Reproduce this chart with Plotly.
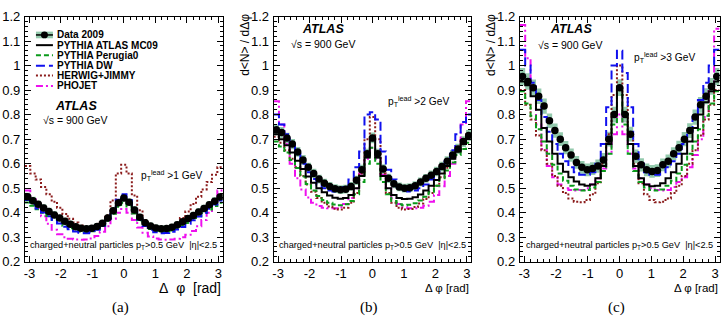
import numpy as np
import plotly.graph_objects as go

W, H = 723, 326
NBINS = 37

# ---------------- data (bins from -pi to pi, 37 bins) ----------------
# Panel (a): pT lead > 1 GeV
a_data = [0.465, 0.449, 0.434, 0.419, 0.405, 0.391, 0.378, 0.365, 0.353, 0.343, 0.337, 0.334, 0.336, 0.344, 0.357, 0.378, 0.408, 0.441,
          0.460,
          0.443, 0.411, 0.381, 0.359, 0.346, 0.338, 0.334, 0.335, 0.341, 0.351, 0.363, 0.376, 0.389, 0.403, 0.417, 0.432, 0.447, 0.464]
a_err = [0.016, 0.016, 0.015, 0.015, 0.015, 0.015, 0.014, 0.014, 0.014, 0.014, 0.014, 0.014, 0.014, 0.014, 0.014, 0.015, 0.015, 0.015,
         0.016,
         0.015, 0.015, 0.015, 0.014, 0.014, 0.014, 0.014, 0.014, 0.014, 0.014, 0.014, 0.014, 0.015, 0.015, 0.015, 0.015, 0.016, 0.016]
a_mc09 = [0.460, 0.445, 0.430, 0.415, 0.400, 0.386, 0.372, 0.359, 0.347, 0.337, 0.331, 0.329, 0.332, 0.340, 0.355, 0.377, 0.406, 0.437,
          0.455,
          0.437, 0.405, 0.376, 0.354, 0.340, 0.332, 0.329, 0.330, 0.336, 0.346, 0.358, 0.371, 0.385, 0.399, 0.414, 0.429, 0.444, 0.458]
a_per = [0.442, 0.428, 0.414, 0.400, 0.386, 0.372, 0.359, 0.347, 0.336, 0.328, 0.323, 0.321, 0.324, 0.332, 0.346, 0.367, 0.396, 0.424,
         0.440,
         0.425, 0.397, 0.368, 0.347, 0.333, 0.325, 0.321, 0.322, 0.327, 0.335, 0.346, 0.358, 0.371, 0.385, 0.399, 0.413, 0.427, 0.440]
a_dw = [0.452, 0.434, 0.417, 0.401, 0.385, 0.370, 0.356, 0.343, 0.332, 0.323, 0.318, 0.316, 0.320, 0.330, 0.347, 0.373, 0.411, 0.453,
        0.475,
        0.452, 0.410, 0.372, 0.346, 0.330, 0.320, 0.316, 0.317, 0.322, 0.331, 0.342, 0.355, 0.369, 0.384, 0.400, 0.416, 0.433, 0.450]
a_her = [0.590, 0.560, 0.535, 0.505, 0.475, 0.445, 0.420, 0.395, 0.375, 0.360, 0.348, 0.340, 0.338, 0.345, 0.360, 0.390, 0.450, 0.560,
         0.595,
         0.560, 0.470, 0.410, 0.370, 0.350, 0.340, 0.336, 0.338, 0.345, 0.358, 0.378, 0.405, 0.435, 0.465, 0.495, 0.525, 0.555, 0.585]
a_pho = [0.490, 0.455, 0.420, 0.385, 0.355, 0.330, 0.312, 0.300, 0.294, 0.291, 0.290, 0.291, 0.295, 0.305, 0.322, 0.345, 0.375, 0.400,
         0.415,
         0.400, 0.370, 0.340, 0.318, 0.303, 0.295, 0.291, 0.290, 0.291, 0.294, 0.300, 0.310, 0.325, 0.345, 0.370, 0.400, 0.440, 0.490]

# Panel (b): pT lead > 2 GeV
b_data = [0.738, 0.727, 0.705, 0.680, 0.648, 0.615, 0.585, 0.560, 0.537, 0.520, 0.507, 0.498, 0.494, 0.496, 0.507, 0.532, 0.575, 0.640,
          0.705,
          0.640, 0.578, 0.540, 0.518, 0.505, 0.500, 0.502, 0.510, 0.525, 0.540, 0.553, 0.568, 0.588, 0.610, 0.635, 0.660, 0.690, 0.715]
b_err = [0.022, 0.022, 0.021, 0.021, 0.020, 0.020, 0.019, 0.019, 0.018, 0.018, 0.018, 0.018, 0.018, 0.018, 0.018, 0.019, 0.020, 0.021,
         0.022,
         0.021, 0.020, 0.019, 0.018, 0.018, 0.018, 0.018, 0.018, 0.018, 0.018, 0.019, 0.019, 0.020, 0.020, 0.021, 0.021, 0.022, 0.022]
b_mc09 = [0.720, 0.700, 0.675, 0.645, 0.612, 0.578, 0.548, 0.522, 0.500, 0.483, 0.470, 0.461, 0.457, 0.460, 0.472, 0.500, 0.550, 0.625,
          0.695,
          0.625, 0.550, 0.500, 0.472, 0.460, 0.456, 0.457, 0.463, 0.474, 0.490, 0.510, 0.533, 0.560, 0.590, 0.620, 0.650, 0.680, 0.710]
b_per = [0.690, 0.670, 0.645, 0.615, 0.582, 0.548, 0.517, 0.490, 0.468, 0.452, 0.440, 0.433, 0.430, 0.434, 0.448, 0.475, 0.525, 0.600,
         0.665,
         0.600, 0.525, 0.475, 0.448, 0.434, 0.430, 0.432, 0.438, 0.450, 0.465, 0.485, 0.510, 0.540, 0.572, 0.605, 0.635, 0.660, 0.685]
b_dw = [0.800, 0.760, 0.720, 0.680, 0.640, 0.600, 0.565, 0.537, 0.515, 0.500, 0.490, 0.486, 0.490, 0.505, 0.535, 0.585, 0.650, 0.800,
        0.810,
        0.780, 0.650, 0.575, 0.535, 0.505, 0.490, 0.486, 0.490, 0.500, 0.515, 0.535, 0.560, 0.585, 0.610, 0.655, 0.720, 0.770, 0.800]
b_her = [0.710, 0.685, 0.655, 0.620, 0.585, 0.550, 0.515, 0.485, 0.460, 0.440, 0.425, 0.416, 0.413, 0.420, 0.440, 0.480, 0.560, 0.700,
         0.790,
         0.700, 0.560, 0.480, 0.440, 0.420, 0.413, 0.415, 0.423, 0.437, 0.456, 0.480, 0.510, 0.545, 0.583, 0.622, 0.660, 0.695, 0.725]
b_pho = [0.855, 0.760, 0.680, 0.600, 0.540, 0.495, 0.462, 0.440, 0.427, 0.420, 0.418, 0.418, 0.422, 0.435, 0.460, 0.500, 0.560, 0.620,
         0.665,
         0.620, 0.555, 0.500, 0.460, 0.435, 0.422, 0.418, 0.418, 0.420, 0.428, 0.445, 0.472, 0.508, 0.550, 0.600, 0.670, 0.760, 0.855]

# Panel (c): pT lead > 3 GeV
c_data = [0.955, 0.935, 0.910, 0.875, 0.835, 0.775, 0.735, 0.700, 0.665, 0.635, 0.605, 0.585, 0.575, 0.580, 0.590, 0.615, 0.700, 0.800,
          0.910,
          0.800, 0.720, 0.630, 0.595, 0.575, 0.568, 0.572, 0.595, 0.610, 0.640, 0.665, 0.700, 0.735, 0.790, 0.840, 0.875, 0.915, 0.955]
c_err = [0.035, 0.034, 0.033, 0.032, 0.031, 0.030, 0.029, 0.028, 0.027, 0.027, 0.026, 0.026, 0.026, 0.026, 0.027, 0.028, 0.030, 0.032,
         0.034,
         0.032, 0.030, 0.028, 0.027, 0.026, 0.026, 0.026, 0.026, 0.027, 0.027, 0.028, 0.029, 0.030, 0.031, 0.032, 0.033, 0.034, 0.035]
c_mc09 = [0.935, 0.920, 0.875, 0.820, 0.745, 0.690, 0.640, 0.600, 0.567, 0.545, 0.527, 0.515, 0.510, 0.515, 0.540, 0.590, 0.680, 0.800,
          0.905,
          0.800, 0.680, 0.590, 0.540, 0.515, 0.508, 0.510, 0.520, 0.540, 0.565, 0.600, 0.640, 0.690, 0.745, 0.800, 0.850, 0.895, 0.935]
c_per = [0.895, 0.845, 0.795, 0.740, 0.690, 0.640, 0.595, 0.560, 0.530, 0.510, 0.495, 0.490, 0.493, 0.503, 0.525, 0.570, 0.640, 0.760,
         0.880,
         0.760, 0.640, 0.570, 0.525, 0.503, 0.493, 0.490, 0.495, 0.510, 0.530, 0.560, 0.595, 0.640, 0.690, 0.740, 0.795, 0.845, 0.895]
c_dw = [1.065, 1.000, 0.930, 0.860, 0.790, 0.730, 0.680, 0.640, 0.610, 0.585, 0.565, 0.555, 0.555, 0.565, 0.600, 0.680, 0.830, 1.000,
        1.060,
        0.970, 0.830, 0.680, 0.600, 0.565, 0.555, 0.555, 0.565, 0.585, 0.610, 0.640, 0.680, 0.730, 0.790, 0.860, 0.930, 1.000, 1.065]
c_her = [0.900, 0.840, 0.780, 0.715, 0.655, 0.600, 0.550, 0.510, 0.480, 0.458, 0.445, 0.443, 0.452, 0.475, 0.520, 0.600, 0.720, 0.880,
         1.000,
         0.880, 0.720, 0.600, 0.520, 0.475, 0.452, 0.443, 0.445, 0.458, 0.480, 0.510, 0.550, 0.600, 0.655, 0.715, 0.780, 0.840, 0.900]
c_pho = [1.165, 1.030, 0.900, 0.760, 0.660, 0.590, 0.545, 0.515, 0.500, 0.493, 0.490, 0.492, 0.500, 0.515, 0.540, 0.580, 0.640, 0.720,
         0.800,
         0.720, 0.640, 0.580, 0.540, 0.515, 0.500, 0.492, 0.490, 0.493, 0.505, 0.525, 0.545, 0.585, 0.635, 0.700, 0.790, 0.910, 1.150]

panel_labels = ["(a)", "(b)", "(c)"]
pt_cuts = ["1", "2", "3"]
legend_names = ["Data 2009", "PYTHIA ATLAS MC09", "PYTHIA Perugia0", "PYTHIA DW", "HERWIG+JIMMY", "PHOJET"]
x_tickvals = [-3, -2, -1, 0, 1, 2, 3]
x_ticktext = ["-3", "-2", "-1", "0", "1", "2", "3"]
y_tickvals = [0.2, 0.3, 0.4, 0.5, 0.6, 0.7, 0.8, 0.9, 1.0, 1.1, 1.2]
y_ticktext = ["0.2", "0.3", "0.4", "0.5", "0.6", "0.7", "0.8", "0.9", "1", "1.1", "1.2"]

# ---------------- styles ----------------
BAND = "rgba(112,184,146,0.75)"
COL_MC09, COL_PER, COL_DW, COL_HER, COL_PHO = "black", "#0a9a1a", "#1010ee", "#8b1c1c", "#ee10ee"
DASH_PER, DASH_DW, DASH_HER, DASH_PHO = "5px,3px", "9px,4px", "2px,2px", "7px,3px,2px,3px"
FONT = "Liberation Sans"

edges = np.linspace(-np.pi, np.pi, NBINS + 1)
centers = 0.5 * (edges[:-1] + edges[1:])


def px(x):
    return x / W


def py(y):
    return 1 - y / H


panels = [
    dict(data=a_data, err=a_err, mc=a_mc09, per=a_per, dw=a_dw, her=a_her, pho=a_pho, x0=24, x1=222),
    dict(data=b_data, err=b_err, mc=b_mc09, per=b_per, dw=b_dw, her=b_her, pho=b_pho, x0=273, x1=471),
    dict(data=c_data, err=c_err, mc=c_mc09, per=c_per, dw=c_dw, her=c_her, pho=c_pho, x0=519.5, x1=719.5),
]
Y_TOP, Y_BOT = 10, 267

fig = go.Figure()


def step(vals):
    return list(edges), list(vals) + [vals[-1]]


for i, p in enumerate(panels):
    xa = "x" if i == 0 else f"x{i+1}"
    ya = "y" if i == 0 else f"y{i+1}"
    d = np.array(p["data"])
    e = np.array(p["err"])
    # error band as boxes
    bx, by = [], []
    for j in range(NBINS):
        bx += [edges[j], edges[j], edges[j + 1], edges[j + 1], edges[j], None]
        by += [d[j] - e[j], d[j] + e[j], d[j] + e[j], d[j] - e[j], d[j] - e[j], None]
    fig.add_trace(go.Scatter(x=bx, y=by, mode="lines", fill="toself", fillcolor=BAND,
                             line=dict(width=0), xaxis=xa, yaxis=ya, showlegend=False, hoverinfo="skip"))
    for key, col, dash in [("pho", COL_PHO, DASH_PHO), ("her", COL_HER, DASH_HER), ("per", COL_PER, DASH_PER),
                           ("dw", COL_DW, DASH_DW), ("mc", COL_MC09, "solid")]:
        sx, sy = step(p[key])
        fig.add_trace(go.Scatter(x=sx, y=sy, mode="lines", line=dict(color=col, width=2, dash=dash, shape="hv"),
                                 xaxis=xa, yaxis=ya, showlegend=False))
    fig.add_trace(go.Scatter(x=centers, y=d, mode="markers", marker=dict(color="black", size=7.5),
                             xaxis=xa, yaxis=ya, showlegend=False))

    axis_common = dict(showline=True, linecolor="black", linewidth=1, mirror="allticks", ticks="inside",
                       ticklen=6, tickwidth=1, tickcolor="black", showgrid=False, zeroline=False,
                       tickfont=dict(family=FONT, size=13, color="black"))
    fig.layout[f"xaxis{'' if i == 0 else i+1}"] = dict(
        axis_common, domain=[px(p["x0"]), px(p["x1"])], range=[-np.pi, np.pi], anchor=ya,
        tickmode="array", tickvals=x_tickvals, ticktext=x_ticktext,
        minor=dict(ticks="inside", ticklen=3, tickcolor="black", tick0=0, dtick=0.2, showgrid=False))
    fig.layout[f"yaxis{'' if i == 0 else i+1}"] = dict(
        axis_common, domain=[py(Y_BOT), py(Y_TOP)], range=[0.2, 1.2], anchor=xa,
        tickmode="array", tickvals=y_tickvals, ticktext=y_ticktext, ticklabelstandoff=1,
        minor=dict(ticks="inside", ticklen=3, tickcolor="black", tick0=0.2, dtick=0.02, showgrid=False))

ann = []
shapes = []


def text(x, y, t, size, xanchor="center", bold=False, italic=False, family=FONT, angle=0):
    s = t
    if bold:
        s = f"<b>{s}</b>"
    if italic:
        s = f"<i>{s}</i>"
    ann.append(dict(x=px(x), y=py(y), xref="paper", yref="paper", text=s, showarrow=False,
                    xanchor=xanchor, yanchor="middle", textangle=angle,
                    font=dict(family=family, size=size, color="black")))


# ATLAS labels / sqrt(s)
atlas_pos = [(75, 104, 74, 118), (322.5, 23, 322, 39), (571, 23, 569.5, 40)]
pt_pos = [(138, 177), (386, 100), (632, 53)]
for i, p in enumerate(panels):
    ax_, ay_, sx_, sy_ = atlas_pos[i]
    text(ax_, ay_, "ATLAS", 12.5, bold=True, italic=True)
    text(sx_, sy_, "√s = 900 GeV", 10.5)
    text(pt_pos[i][0], pt_pos[i][1], f"p<sub>T</sub><sup>lead</sup> &gt;{pt_cuts[i]} GeV", 10.2, xanchor="left")
    cx = 0.5 * (p["x0"] + p["x1"])
    text(cx, 250, "charged+neutral particles p<sub>T</sub>&gt;0.5 GeV&nbsp;&nbsp;|η|&lt;2.5", 9.2)
    if i == 0:
        text(p["x1"], 295, "Δ&nbsp;&nbsp;φ&nbsp;&nbsp;[rad]", 14, xanchor="right")
    else:
        text(p["x1"], 295, "Δ φ [rad]", 11.5, xanchor="right")
    text(cx - 3, 315, panel_labels[i], 15, family="Liberation Serif")
    if i > 0:
        text(p["x0"] - 29, 40, "d&lt;N&gt; / dΔφ", 12, angle=-90)

# legend (panel a)
rows = [29.3, 40, 50.7, 61.7, 71.7, 82.7]
lx0, lx1, ltx = 35, 52, 54.5
for k, name in enumerate(legend_names):
    text(ltx, rows[k], name, 10, xanchor="left", bold=True)
shapes.append(dict(type="rect", xref="paper", yref="paper", x0=px(lx0), x1=px(lx1), y0=py(rows[0] + 3.5),
                   y1=py(rows[0] - 3.5), fillcolor=BAND, line=dict(width=0)))
shapes.append(dict(type="line", xref="paper", yref="paper", x0=px(lx0), x1=px(lx1), y0=py(rows[0]), y1=py(rows[0]),
                   line=dict(color="black", width=1.5)))
shapes.append(dict(type="circle", xref="paper", yref="paper", x0=px(43.5 - 3.5), x1=px(43.5 + 3.5),
                   y0=py(rows[0] + 3.5), y1=py(rows[0] - 3.5), fillcolor="black", line=dict(width=0)))
for k, (col, dash) in enumerate([(COL_MC09, "solid"), (COL_PER, DASH_PER), (COL_DW, DASH_DW),
                                 (COL_HER, DASH_HER), (COL_PHO, DASH_PHO)]):
    r = rows[k + 1]
    shapes.append(dict(type="line", xref="paper", yref="paper", x0=px(lx0), x1=px(lx1), y0=py(r), y1=py(r),
                       line=dict(color=col, width=2, dash=dash)))

fig.update_layout(width=W, height=H, margin=dict(l=0, r=0, t=0, b=0), paper_bgcolor="white",
                  plot_bgcolor="white", annotations=ann, shapes=shapes, showlegend=False,
                  font=dict(family=FONT, color="black"))
fig.write_html("out.html")
